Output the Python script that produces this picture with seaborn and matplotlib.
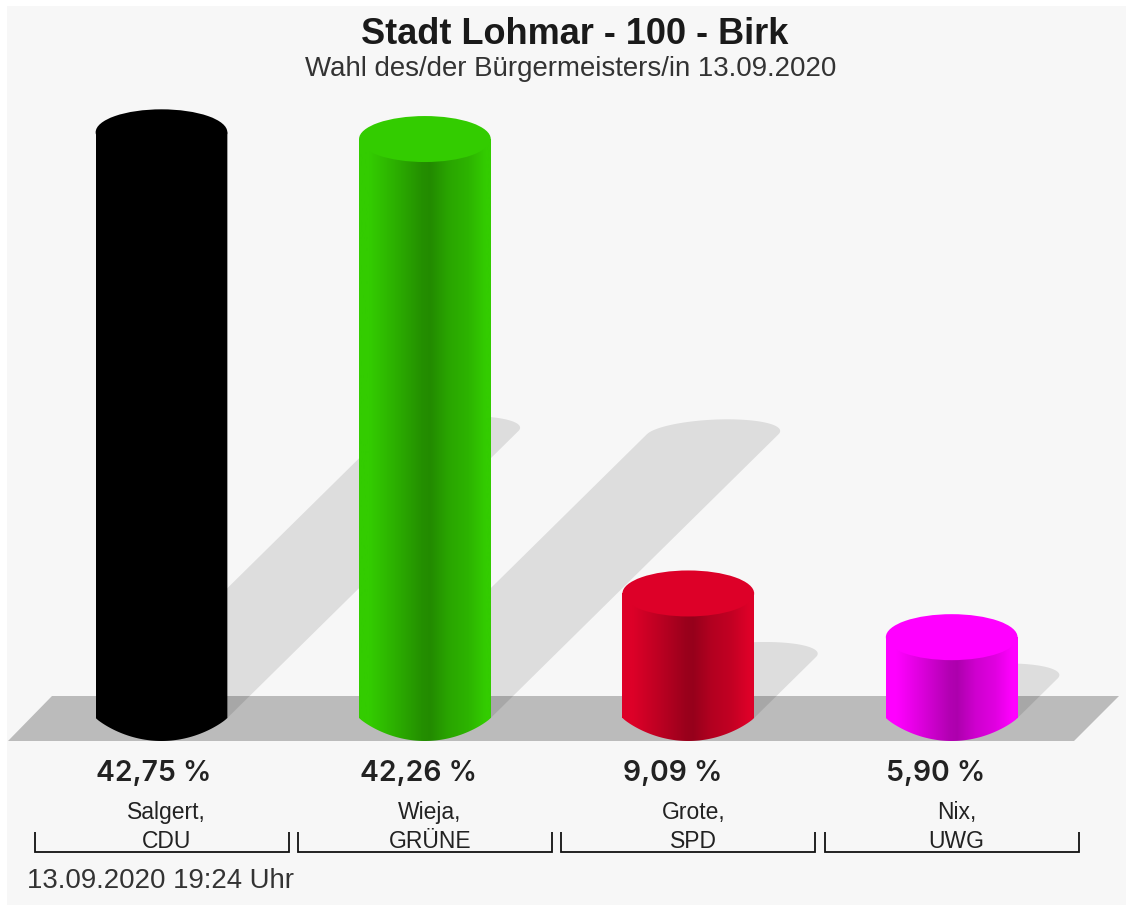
# Bar chart of the Lohmar mayoral vote, drawn as cylinders on a grey floor
import numpy as np
import pandas as pd
import seaborn as sns
import matplotlib
matplotlib.use("Agg")
import matplotlib.pyplot as plt
from matplotlib.colors import LinearSegmentedColormap, to_rgb
from matplotlib.patches import Ellipse, PathPatch, Polygon, Rectangle
from matplotlib.path import Path

# Data
candidates = ["Salgert,\nCDU", "Wieja,\nGRÜNE", "Grote,\nSPD", "Nix,\nUWG"]
shares = [42.75, 42.26, 9.09, 5.90]
share_labels = ["42,75 %", "42,26 %", "9,09 %", "5,90 %"]
bar_colors = ["#000000", "#33cc00", "#dd0028", "#ff00ff"]
title = "Stadt Lohmar - 100 - Birk"
subtitle = "Wahl des/der Bürgermeisters/in 13.09.2020"
stamp = "13.09.2020 19:24 Uhr"

# Pixel layout of the picture
W, H = 1133, 906
X0, X_STEP = 161.5, 263.4   # pixel of first bar, pixels per category
Y0, Y_STEP = 718.0, 13.7    # pixel of zero line, pixels per percent


def xu(px):
    return (px - X0) / X_STEP


def yu(px):
    return (Y0 - px) / Y_STEP


sns.set_theme(style="white")
plt.rcParams["font.family"] = ["Liberation Sans", "DejaVu Sans"]

df = pd.DataFrame({"candidate": candidates, "share": shares})

fig = plt.figure(figsize=(W / 100, H / 100), dpi=100, facecolor="white")
ax = fig.add_axes([0, 0, 1, 1])
ax.set_axis_off()

sns.barplot(data=df, x="candidate", y="share", hue="candidate",
            palette=bar_colors, width=0.5, dodge=False, legend=False,
            saturation=1, linewidth=0, zorder=4, ax=ax)

# Panel and floor
ax.add_patch(Rectangle((xu(7), yu(905)), (1126 - 7) / X_STEP, (905 - 6) / Y_STEP,
                       fc="#f7f7f7", ec="none", zorder=0))
ax.add_patch(Polygon([(xu(8), yu(741)), (xu(52), yu(696)), (xu(1119), yu(696)), (xu(1074), yu(741))],
                     fc="#bbbbbb", ec="none", zorder=1))

half_h = 23 / Y_STEP
for bar, color, label, name in zip(ax.patches, bar_colors, share_labels, candidates):
    left, width, value = bar.get_x(), bar.get_width(), bar.get_height()
    mid = left + width / 2

    # Shadow leans back at 45 degrees, half the height of the bar
    shift = value * 0.497 * Y_STEP / X_STEP
    theta = np.linspace(np.pi, 0, 60)
    arc_x = mid + shift + width / 2 * np.cos(theta) + 15 / X_STEP * np.sin(theta)
    arc_y = value * 0.49 + 15 / Y_STEP * np.sin(theta)
    points = [(left, 0)] + list(zip(arc_x, arc_y)) + [(left + width, 0)]
    ax.add_patch(Polygon(points, fc="black", alpha=0.1, ec="none", zorder=2))

    # Side of the cylinder: gradient clipped to the body with a curved foot
    rgb = np.array(to_rgb(color))
    cmap = LinearSegmentedColormap.from_list("side", [
        (0.0, rgb), (0.08, rgb), (0.3, rgb * 0.84), (0.48, rgb * 0.7),
        (0.54, rgb * 0.68), (0.68, rgb * 0.81), (0.83, rgb * 0.88), (0.96, rgb), (1.0, rgb)])
    t = np.linspace(-1, 1, 60)
    foot_x = mid + t * width / 2
    foot_y = -half_h * (1 - t ** 2) ** 0.9
    outline = [(left, value)] + list(zip(foot_x, foot_y)) + [(left + width, value), (left, value)]
    clip = PathPatch(Path(outline), transform=ax.transData, fc="none", ec="none")
    ax.add_patch(clip)
    img = ax.imshow(np.linspace(0, 1, 256)[None, :], cmap=cmap, aspect="auto",
                    extent=(left, left + width, -half_h, value), zorder=5)
    img.set_clip_path(clip)

    # Flat top
    ax.add_patch(Ellipse((mid, value), width, half_h * 2, fc=color, ec="none", zorder=6))

    # Share starts at the left edge of the bar
    ax.text(left + 0.5 / X_STEP, yu(774), label, ha="left", va="center", fontsize=20.4,
            family=["Inter", "DejaVu Sans"], fontweight="semibold", color="#222222", zorder=7)
    ax.text(mid + 5 / X_STEP, yu(827), name, ha="center", va="center", fontsize=16.5,
            color="#222222", linespacing=1.3, zorder=7)

    # Bracket under each candidate
    ax.plot([mid - 127 / X_STEP, mid - 127 / X_STEP, mid + 127 / X_STEP, mid + 127 / X_STEP],
            [yu(832), yu(851.5), yu(851.5), yu(832)], color="#111111", lw=1.3, zorder=7,
            solid_joinstyle="miter", solid_capstyle="butt")

ax.text(xu(575), yu(35), title, ha="center", va="center", fontsize=26, fontweight="bold",
        color="#1a1a1a", zorder=7)
ax.text(xu(570.5), yu(69.5), subtitle, ha="center", va="center", fontsize=19.9,
        color="#333333", zorder=7)
ax.text(xu(27), yu(880.5), stamp, ha="left", va="center", fontsize=19.9,
        color="#333333", zorder=7)

ax.set_xlim(xu(0), xu(W))
ax.set_ylim(yu(H), yu(0))

fig.savefig("out.png", dpi=100, facecolor="white")
